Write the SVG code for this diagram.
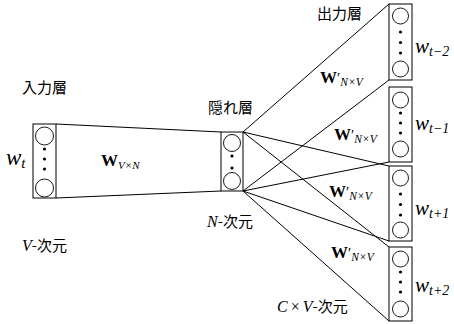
<svg xmlns="http://www.w3.org/2000/svg" width="454" height="324" viewBox="0 0 454 324">
<style>
.box{fill:#fff;stroke:#000;stroke-width:1}
.c{fill:#fff;stroke:#000;stroke-width:0.9}
.d{fill:#000}
.ln{stroke:#000;stroke-width:1;fill:none}
.jp{font-family:"Noto Sans CJK JP","Noto Sans",sans-serif;font-size:15px;fill:#000}
.mi{font-family:"Liberation Serif",serif;font-style:italic;fill:#000}
.mb{font-family:"Liberation Serif",serif;font-weight:bold;fill:#000}
.pr{font-family:"Liberation Serif",serif;fill:#000}
</style>
<rect width="454" height="324" fill="#fff"/>
<g id="connectors">
<line class="ln" x1="56" y1="124" x2="221" y2="132"/>
<line class="ln" x1="56" y1="198" x2="221" y2="191"/>
<line class="ln" x1="243" y1="132" x2="389" y2="4"/>
<line class="ln" x1="243" y1="191" x2="389" y2="80"/>
<line class="ln" x1="243" y1="191" x2="389" y2="162"/>
<line class="ln" x1="243" y1="132" x2="389" y2="166"/>
<line class="ln" x1="243" y1="191" x2="389" y2="241"/>
<line class="ln" x1="243" y1="132" x2="389" y2="247"/>
<line class="ln" x1="243" y1="191" x2="389" y2="321"/>
</g>
<g id="input">
<rect class="box" x="33" y="124" width="23" height="74"/>
<circle class="c" cx="44.5" cy="136" r="9"/>
<circle class="c" cx="44.5" cy="188" r="9"/>
<circle class="d" cx="44.5" cy="149" r="1.6"/>
<circle class="d" cx="44.5" cy="159" r="1.6"/>
<circle class="d" cx="44.5" cy="169" r="1.6"/>
</g>
<g id="hidden">
<rect class="box" x="221" y="132" width="22" height="59"/>
<circle class="c" cx="232" cy="143" r="8.5"/>
<circle class="c" cx="232" cy="181" r="8.5"/>
<circle class="d" cx="232" cy="156" r="1.6"/>
<circle class="d" cx="232" cy="168" r="1.6"/>
</g>
<g id="out1">
<rect class="box" x="389" y="4" width="23" height="76"/>
<circle class="c" cx="400.5" cy="16" r="8"/>
<circle class="c" cx="400.5" cy="69" r="8"/>
<circle class="d" cx="400.5" cy="32" r="1.6"/>
<circle class="d" cx="400.5" cy="42.5" r="1.6"/>
<circle class="d" cx="400.5" cy="53" r="1.6"/>
</g>
<g id="out2">
<rect class="box" x="389" y="87" width="23" height="75"/>
<circle class="c" cx="400.5" cy="100" r="8"/>
<circle class="c" cx="400.5" cy="149" r="8"/>
<circle class="d" cx="400.5" cy="113" r="1.6"/>
<circle class="d" cx="400.5" cy="123" r="1.6"/>
<circle class="d" cx="400.5" cy="133" r="1.6"/>
</g>
<g id="out3">
<rect class="box" x="389" y="166" width="23" height="75"/>
<circle class="c" cx="400.5" cy="178" r="8"/>
<circle class="c" cx="400.5" cy="230" r="8"/>
<circle class="d" cx="400.5" cy="194" r="1.6"/>
<circle class="d" cx="400.5" cy="204.5" r="1.6"/>
<circle class="d" cx="400.5" cy="215" r="1.6"/>
</g>
<g id="out4">
<rect class="box" x="389" y="247" width="23" height="74"/>
<circle class="c" cx="400.5" cy="259" r="8"/>
<circle class="c" cx="400.5" cy="309" r="8"/>
<circle class="d" cx="400.5" cy="272" r="1.6"/>
<circle class="d" cx="400.5" cy="282" r="1.6"/>
<circle class="d" cx="400.5" cy="292" r="1.6"/>
</g>
<g id="labels">
<text class="jp" x="22" y="93">入力層</text>
<text class="jp" x="208" y="113">隠れ層</text>
<text class="jp" x="317" y="19">出力層</text>
<text x="6" y="165"><tspan class="mi" font-size="23">w</tspan><tspan class="mi" font-size="15" dy="3">t</tspan></text>
<text x="101" y="166"><tspan class="mb" font-size="17">W</tspan><tspan class="mi" font-size="11" dy="3">V×N</tspan></text>
<text x="22" y="251"><tspan class="mi" font-size="16">V</tspan><tspan class="jp">-次元</tspan></text>
<text x="207" y="227"><tspan class="mi" font-size="16">N</tspan><tspan class="jp">-次元</tspan></text>
<text x="277" y="312"><tspan class="mi" font-size="16">C</tspan><tspan class="pr" font-size="16" dx="3">×</tspan><tspan class="mi" font-size="16" dx="3">V</tspan><tspan class="jp">-次元</tspan></text>
<text x="320" y="83"><tspan class="mb" font-size="17">W</tspan><tspan class="pr" font-size="15">′</tspan><tspan class="mi" font-size="11.5" dy="3">N×V</tspan></text>
<text x="334" y="140"><tspan class="mb" font-size="17">W</tspan><tspan class="pr" font-size="15">′</tspan><tspan class="mi" font-size="11.5" dy="3">N×V</tspan></text>
<text x="329" y="197"><tspan class="mb" font-size="17">W</tspan><tspan class="pr" font-size="15">′</tspan><tspan class="mi" font-size="11.5" dy="3">N×V</tspan></text>
<text x="331" y="258"><tspan class="mb" font-size="17">W</tspan><tspan class="pr" font-size="15">′</tspan><tspan class="mi" font-size="11.5" dy="3">N×V</tspan></text>
<text x="415" y="53"><tspan class="mi" font-size="21">w</tspan><tspan class="mi" font-size="14" dy="3">t−2</tspan></text>
<text x="415" y="130"><tspan class="mi" font-size="21">w</tspan><tspan class="mi" font-size="14" dy="3">t−1</tspan></text>
<text x="415" y="215"><tspan class="mi" font-size="21">w</tspan><tspan class="mi" font-size="14" dy="3">t+1</tspan></text>
<text x="415" y="292"><tspan class="mi" font-size="21">w</tspan><tspan class="mi" font-size="14" dy="3">t+2</tspan></text>
</g>
</svg>
